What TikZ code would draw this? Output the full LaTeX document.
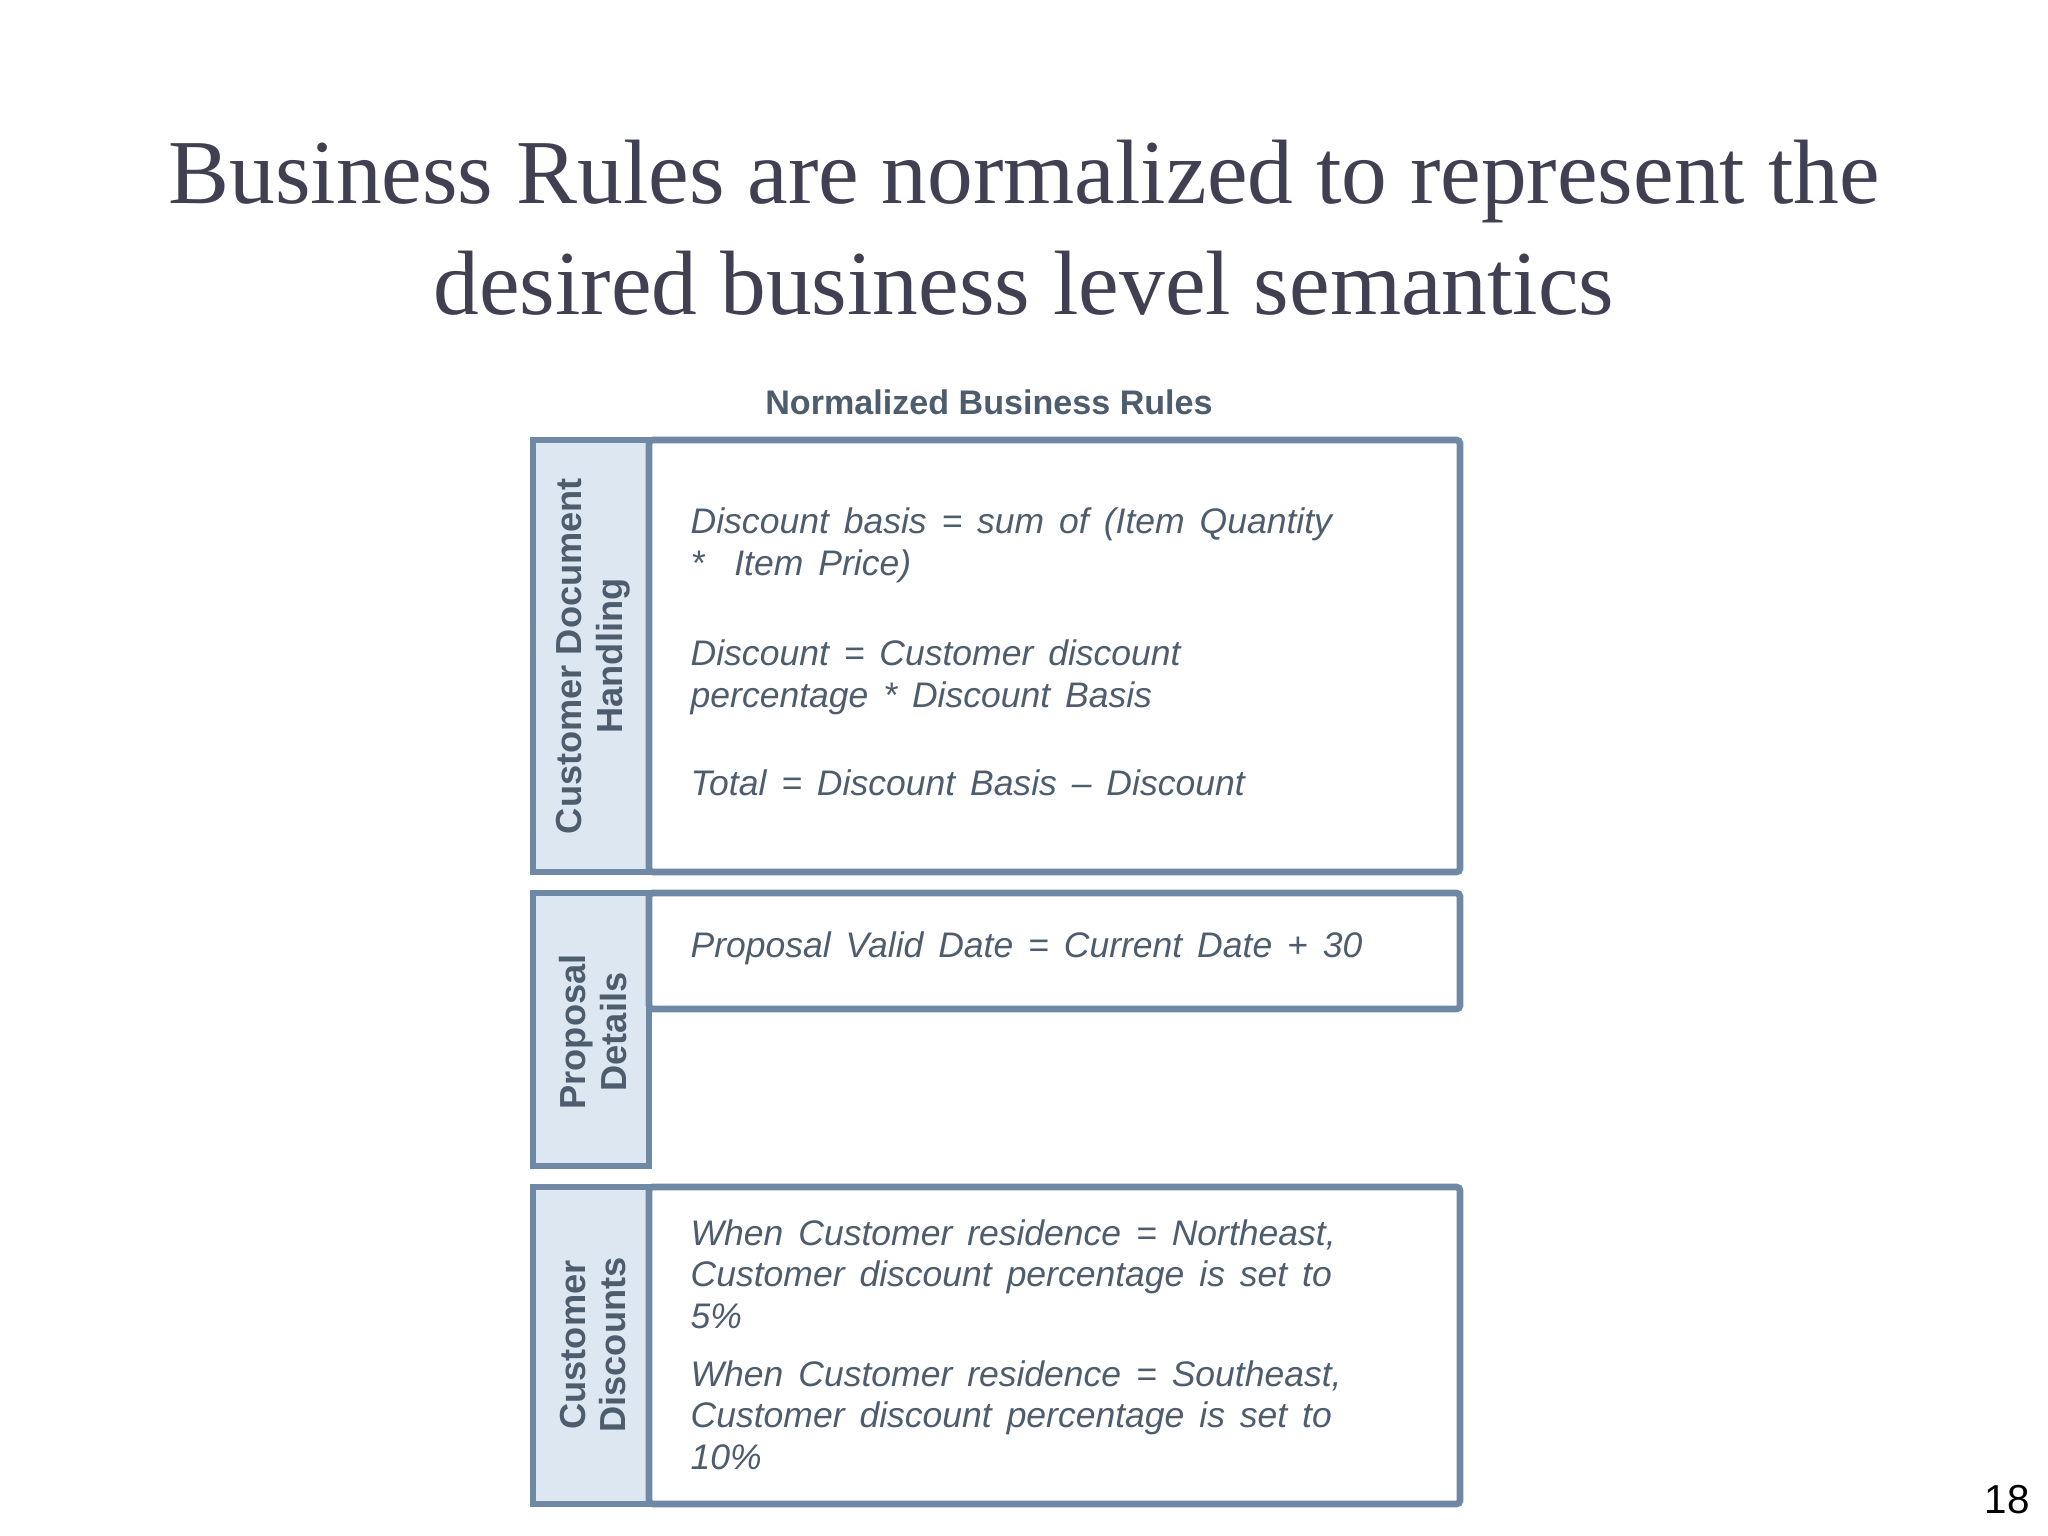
\documentclass[tikz,border=0pt]{standalone}
\usepackage{fontspec}
\setmainfont{Liberation Serif}
\setsansfont{Liberation Sans}
\definecolor{bord}{HTML}{6F89A4}
\definecolor{lblfill}{HTML}{DCE7F1}
\definecolor{txt}{HTML}{4E5D6E}
\definecolor{ttl}{HTML}{404052}
\newcommand{\rulefont}{\sffamily\itshape\fontsize{10.1}{11.9}\selectfont\spaceskip=0.42em\relax}
\tikzset{
  frame/.style={draw=bord, line width=1.9pt, rounded corners=1pt},
  lbl/.style={fill=lblfill, draw=bord, line width=1.9pt},
  rule/.style={anchor=base west, inner sep=0pt, text=txt, font=\rulefont},
  lane/.style={rotate=90, align=center, text=txt, inner sep=0pt, font=\sffamily\bfseries\fontsize{10.3}{11.6}\selectfont}
}
\begin{document}
\begin{tikzpicture}[x=0.01cm,y=-0.01cm]
\useasboundingbox (0,0) rectangle (2048,1536);
\node[text=ttl, align=center, font=\fontsize{26}{31.6}\selectfont] (title) at (1024,228) {Business Rules are normalized to represent the\\desired business level semantics};
\node[text=txt, font=\sffamily\bfseries\fontsize{9.7}{12}\selectfont] (sub) at (989,402) {Normalized Business Rules};
% box 1
\draw[lbl] (533,440) rectangle (649,872);
\draw[frame] (649,440) rectangle (1460,872);
\node[lane] (l1) at (593,656) {Customer Document\\Handling};
\node[rule] (r1) at (690,533) {Discount basis = sum of (Item Quantity};
\node[rule] (r2) at (690,575) {*\ \ Item Price)};
\node[rule] (r3) at (690,665) {Discount = Customer discount};
\node[rule] (r4) at (690,707) {percentage * Discount Basis};
\node[rule] (r5) at (690,795) {Total = Discount Basis -- Discount};
% box 2
\draw[lbl] (533,893) rectangle (649,1166);
\draw[frame] (649,893) rectangle (1460,1009);
\node[lane] (l2) at (593,1032) {Proposal\\Details};
\node[rule] (r6) at (690,957) {Proposal Valid Date = Current Date + 30};
% box 3
\draw[lbl] (533,1187) rectangle (649,1504);
\draw[frame] (649,1187) rectangle (1460,1504);
\node[lane] (l3) at (593,1345) {Customer\\Discounts};
\node[rule] (r7) at (690,1245) {When Customer residence = Northeast,};
\node[rule] (r8) at (690,1286) {Customer discount percentage is set to};
\node[rule] (r9) at (690,1328) {5\%};
\node[rule] (r10) at (690,1386) {When Customer residence = Southeast,};
\node[rule] (r11) at (690,1427) {Customer discount percentage is set to};
\node[rule] (r12) at (690,1469) {10\%};
\node[font=\sffamily\fontsize{11.5}{14}\selectfont, anchor=base] (pg) at (2007,1513) {18};
\end{tikzpicture}
\end{document}
